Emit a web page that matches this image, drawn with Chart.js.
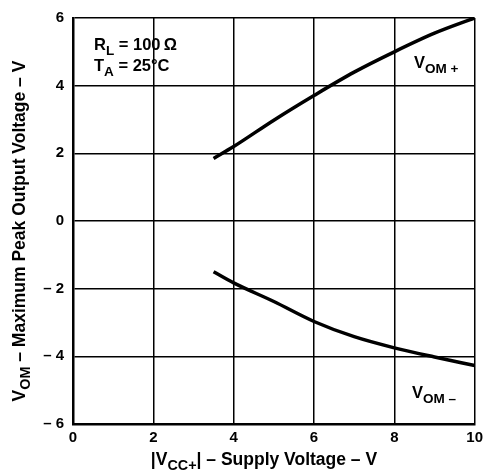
<!DOCTYPE html>
<html>
<head>
<meta charset="utf-8">
<script src="https://cdn.jsdelivr.net/npm/chart.js@4/dist/chart.umd.min.js"></script>
<style>
    html, body { margin: 0; padding: 0; background: #fff; }
    #wrap { width: 488px; height: 472px; }
</style>
</head>
<body>
<div id="wrap"><canvas id="chart" width="488" height="472"></canvas></div>
<script>
(function () {
    const supplyVoltage = [3.5, 4, 5, 6, 7, 8, 9, 10];
    const vomPlus = [1.85, 2.2, 2.98, 3.71, 4.4, 5.0, 5.55, 6.0];
    const vomMinus = [-1.5, -1.83, -2.38, -2.97, -3.42, -3.75, -4.02, -4.27];
    const xTicks = [0, 2, 4, 6, 8, 10];
    const yTicks = [-6, -4, -2, 0, 2, 4, 6];

    const fontFamily = '"Liberation Sans", Arial, Helvetica, sans-serif';
    const ink = '#000';

    // draws text made of [text, isSubscript] parts starting at x
    function drawParts(ctx, parts, x, y, size) {
        parts.forEach(function (p) {
            const sub = p[1];
            ctx.font = 'bold ' + (sub ? size * 0.82 : size) + 'px ' + fontFamily;
            ctx.fillText(p[0], x, sub ? y + size * 0.28 : y);
            x += ctx.measureText(p[0]).width;
        });
        return x;
    }

    function partsWidth(ctx, parts, size) {
        let w = 0;
        parts.forEach(function (p) {
            ctx.font = 'bold ' + (p[1] ? size * 0.82 : size) + 'px ' + fontFamily;
            w += ctx.measureText(p[0]).width;
        });
        return w;
    }

    const labelsPlugin = {
        id: 'labels',
        afterDraw: function (chart) {
            const ctx = chart.ctx;
            ctx.save();
            ctx.fillStyle = ink;
            ctx.textBaseline = 'alphabetic';
            ctx.textAlign = 'left';

            drawParts(ctx, [['R', false], ['L', true], [' = 100\u2009\u03A9', false]], 94, 50, 16.5);
            drawParts(ctx, [['T', false], ['A', true], [' = 25\u00B0C', false]], 94, 71, 16.5);
            drawParts(ctx, [['V', false], ['OM +', true]], 414, 68, 16.5);
            drawParts(ctx, [['V', false], ['OM \u2013', true]], 412, 398, 16.5);

            // x axis title
            const xt = [['|V', false], ['CC+', true], ['| \u2013 Supply Voltage \u2013 V', false]];
            const xw = partsWidth(ctx, xt, 17.5);
            drawParts(ctx, xt, 264 - xw / 2, 465, 17.5);

            // y axis title
            const yt = [['V', false], ['OM', true], [' \u2013 Maximum Peak Output Voltage \u2013 V', false]];
            const yw = partsWidth(ctx, yt, 17.5);
            ctx.translate(25, 231);
            ctx.rotate(-Math.PI / 2);
            drawParts(ctx, yt, -yw / 2, 0, 17.5);
            ctx.restore();
        }
    };

    const tickFont = { family: fontFamily, size: 15, weight: 'bold' };

    new Chart(document.getElementById('chart').getContext('2d'), {
        type: 'line',
        data: {
            datasets: [
                {
                    label: 'VOM+',
                    data: supplyVoltage.map(function (x, i) { return { x: x, y: vomPlus[i] }; }),
                    borderColor: ink,
                    borderWidth: 3.5,
                    pointRadius: 0,
                    cubicInterpolationMode: 'monotone'
                },
                {
                    label: 'VOM-',
                    data: supplyVoltage.map(function (x, i) { return { x: x, y: vomMinus[i] }; }),
                    borderColor: ink,
                    borderWidth: 3.5,
                    pointRadius: 0,
                    cubicInterpolationMode: 'monotone'
                }
            ]
        },
        options: {
            responsive: false,
            animation: false,
            layout: { padding: { top: 15, right: 12, left: 0, bottom: 0 } },
            plugins: {
                legend: { display: false },
                tooltip: { enabled: false }
            },
            scales: {
                x: {
                    type: 'linear',
                    min: 0,
                    max: 10,
                    afterBuildTicks: function (axis) {
                        axis.ticks = xTicks.map(function (v) { return { value: v }; });
                    },
                    afterFit: function (axis) { axis.height = 48; },
                    ticks: { color: ink, font: tickFont, padding: 5 },
                    grid: { color: ink, lineWidth: 1.5, drawTicks: false },
                    border: { color: ink, width: 2.5 }
                },
                y: {
                    type: 'linear',
                    min: -6,
                    max: 6,
                    afterBuildTicks: function (axis) {
                        axis.ticks = yTicks.map(function (v) { return { value: v }; });
                    },
                    afterFit: function (axis) { axis.width = 73; },
                    ticks: {
                        color: ink,
                        font: tickFont,
                        padding: 9,
                        callback: function (v) { return v < 0 ? '\u2013 ' + Math.abs(v) : String(v); }
                    },
                    grid: { color: ink, lineWidth: 1.5, drawTicks: false },
                    border: { color: ink, width: 2.5 }
                }
            }
        },
        plugins: [labelsPlugin]
    });
})();
</script>
</body>
</html>
